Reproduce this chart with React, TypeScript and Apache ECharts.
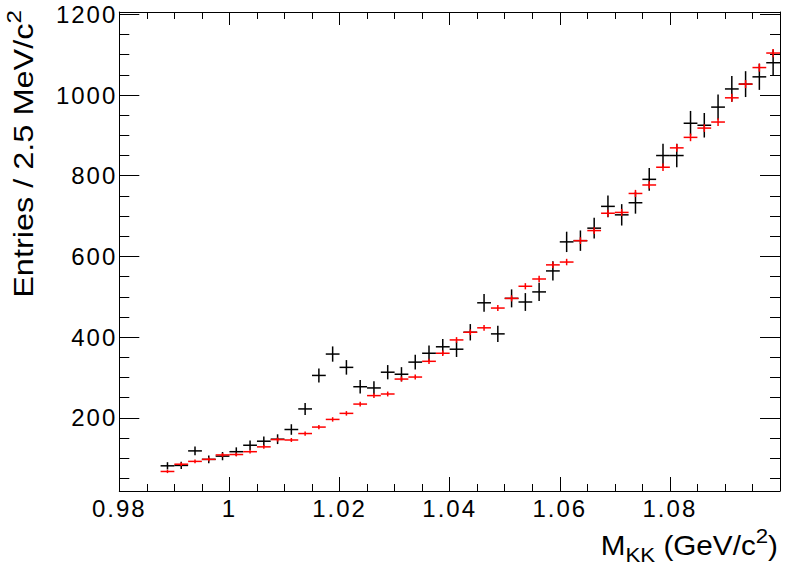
import React, { useEffect, useRef } from "react";
import * as echarts from "echarts";

// Histogram binning (2.5 MeV bins on 0.98 - 1.10 GeV/c^2)
const X_MIN = 0.98;
const X_MAX = 1.1;
const BIN_WIDTH = 0.0025;
const FIRST_FILLED_BIN = 3;

// Y axis range read from the frame
const Y_MIN = 18.6;
const Y_MAX = 1205.7;

// Data (black) entries per bin, bins 3..47
const dataCounts = [
  81, 82, 118, 97, 105, 116, 132, 142, 147, 171,
  222, 305, 358, 325, 277, 274, 313, 308, 338, 360,
  376, 370, 412, 485, 408, 496, 487, 512, 564, 636,
  639, 670, 724, 703, 733, 791, 850, 850, 930, 925,
  970, 1015, 1027, 1045, 1080,
];

// Reference (red) entries per bin, bins 3..47
const refCounts = [
  67, 85, 92, 97, 108, 109, 116, 128, 146, 145,
  161, 177, 196, 211, 234, 255, 259, 296, 301, 340,
  360, 393, 412, 423, 472, 496, 526, 544, 579, 586,
  639, 664, 707, 709, 756, 777, 821, 869, 895, 918,
  933, 993, 1027, 1068, 1104,
];

// Tick values / labels
const xMajorTicks = [0.98, 1.0, 1.02, 1.04, 1.06, 1.08, 1.1];
const xLabelValues = [0.98, 1.0, 1.02, 1.04, 1.06, 1.08];
const xMinorTicks = [
  0.985, 0.99, 0.995, 1.005, 1.01, 1.015, 1.025, 1.03, 1.035,
  1.045, 1.05, 1.055, 1.065, 1.07, 1.075, 1.085, 1.09, 1.095,
];
const yMajorTicks = [200, 400, 600, 800, 1000, 1200];
const yMinorTicks = [
  50, 100, 150, 250, 300, 350, 450, 500, 550, 650, 700, 750,
  850, 900, 950, 1050, 1100, 1150,
];

const FONT = "'Liberation Sans', Arial, Helvetica, sans-serif";
const TICK_FONT_SIZE = 24;

function binCenter(i: number) {
  return X_MIN + (FIRST_FILLED_BIN + i + 0.5) * BIN_WIDTH;
}

// data points with Poisson uncertainty
const dataPoints = dataCounts.map((v, i) => [binCenter(i), v, Math.sqrt(v)]);
// reference points (weighted, smaller uncertainty)
const refPoints = refCounts.map((v, i) => [binCenter(i), v, 0.25 * Math.sqrt(v) + 2]);

function makeRenderer(color: string) {
  return (params: any, api: any) => {
    const x = api.value(0);
    const y = api.value(1);
    const e = api.value(2);
    const pL = api.coord([x - BIN_WIDTH / 2, y]);
    const pR = api.coord([x + BIN_WIDTH / 2, y]);
    const pT = api.coord([x, y + e]);
    const pB = api.coord([x, y - e]);
    const style = { stroke: color, lineWidth: 1.5 };
    return {
      type: "group",
      children: [
        { type: "line", shape: { x1: pL[0], y1: pL[1], x2: pR[0], y2: pR[1] }, style },
        { type: "line", shape: { x1: pT[0], y1: pT[1], x2: pB[0], y2: pB[1] }, style },
      ],
    };
  };
}

function xAxisDef(position: "top" | "bottom", ticks: number[], len: number, main: boolean, labels: boolean) {
  return {
    type: "value",
    position,
    min: X_MIN,
    max: X_MAX,
    axisLine: { show: main, onZero: false, lineStyle: { color: "#000", width: 1 } },
    axisTick: { show: true, inside: true, length: len, customValues: ticks, lineStyle: { color: "#000", width: 1 } },
    axisLabel: labels
      ? {
          show: true,
          customValues: xLabelValues,
          margin: 5,
          fontSize: TICK_FONT_SIZE,
          fontFamily: FONT,
          color: "#000",
          formatter: (v: number) => String(parseFloat(v.toFixed(2))),
        }
      : { show: false },
    splitLine: { show: false },
  };
}

function yAxisDef(position: "left" | "right", ticks: number[], len: number, main: boolean, labels: boolean) {
  return {
    type: "value",
    position,
    min: Y_MIN,
    max: Y_MAX,
    axisLine: { show: main, onZero: false, lineStyle: { color: "#000", width: 1 } },
    axisTick: { show: true, inside: true, length: len, customValues: ticks, lineStyle: { color: "#000", width: 1 } },
    axisLabel: labels
      ? {
          show: true,
          customValues: yMajorTicks,
          margin: 2,
          fontSize: TICK_FONT_SIZE,
          fontFamily: FONT,
          color: "#000",
          formatter: (v: number) => String(Math.round(v)),
        }
      : { show: false },
    splitLine: { show: false },
  };
}

const titleRich = {
  m: { fontSize: 28, fontFamily: FONT, lineHeight: 40, color: "#000" },
  s: { fontSize: 21, fontFamily: FONT, lineHeight: 22, verticalAlign: "bottom", color: "#000" },
  p: { fontSize: 21, fontFamily: FONT, lineHeight: 18, verticalAlign: "top", color: "#000" },
};

export default function App() {
  const ref = useRef<HTMLDivElement>(null);

  useEffect(() => {
    document.body.style.margin = "0";
    if (!ref.current) return;
    const chart = echarts.init(ref.current, undefined, { renderer: "svg" });
    chart.setOption({
      animation: false,
      backgroundColor: "#fff",
      textStyle: { fontFamily: FONT },
      grid: { left: 119.3, right: 16, top: 12, bottom: 81, containLabel: false },
      xAxis: [
        xAxisDef("bottom", xMajorTicks, 14, true, true),
        xAxisDef("bottom", xMinorTicks, 7, false, false),
        xAxisDef("top", xMajorTicks, 13, true, false),
        xAxisDef("top", xMinorTicks, 7, false, false),
      ],
      yAxis: [
        yAxisDef("left", yMajorTicks, 20, true, true),
        yAxisDef("left", yMinorTicks, 10, false, false),
        yAxisDef("right", yMajorTicks, 20, true, false),
        yAxisDef("right", yMinorTicks, 10, false, false),
      ],
      series: [
        {
          type: "custom",
          name: "data",
          xAxisIndex: 0,
          yAxisIndex: 0,
          renderItem: makeRenderer("#000000"),
          data: dataPoints,
          encode: { x: 0, y: 1 },
          z: 2,
        },
        {
          type: "custom",
          name: "reference",
          xAxisIndex: 0,
          yAxisIndex: 0,
          renderItem: makeRenderer("#ff0000"),
          data: refPoints,
          encode: { x: 0, y: 1 },
          z: 3,
        },
      ],
      graphic: [
        {
          type: "text",
          x: 778,
          y: 545,
          scaleX: 1.06,
          style: {
            text: "{m|M}{s|KK}{m| (GeV/c}{p|2}{m|)}",
            align: "right",
            verticalAlign: "middle",
            rich: titleRich,
          },
        },
        {
          type: "text",
          x: 23,
          y: 10,
          rotation: Math.PI / 2,
          scaleX: 1.16,
          style: {
            text: "{m|Entries / 2.5 MeV/c}{p|2}",
            align: "right",
            verticalAlign: "middle",
            rich: titleRich,
          },
        },
      ],
    });
    return () => chart.dispose();
  }, []);

  return (
    <div className="rootchart">
      <style>{`.rootchart svg text[style*="${TICK_FONT_SIZE}px"] { letter-spacing: 2px; }`}</style>
      <div ref={ref} style={{ width: 796, height: 572 }} />
    </div>
  );
}
